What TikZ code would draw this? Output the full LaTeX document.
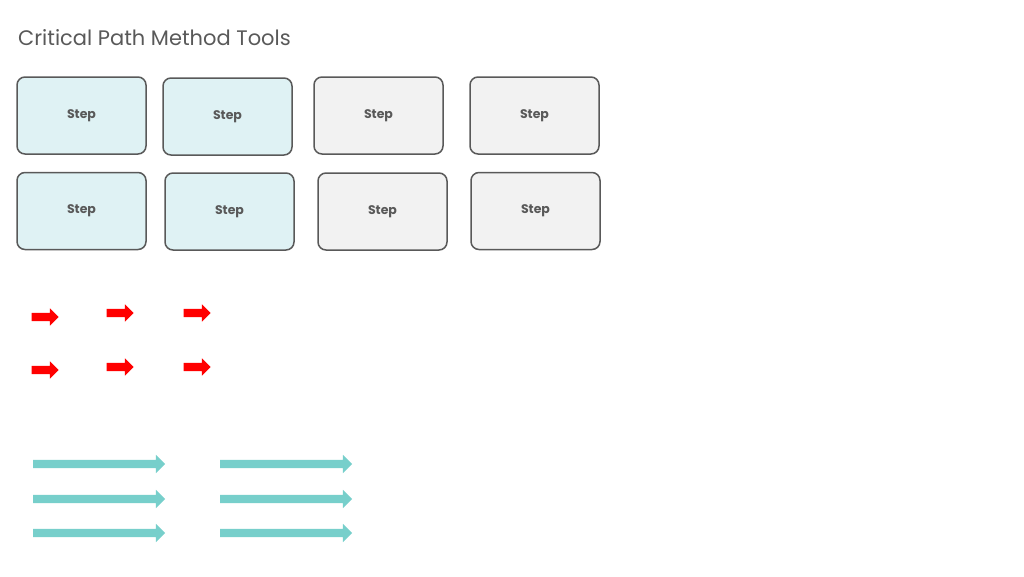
\documentclass[tikz,border=0pt]{standalone}
\usepackage{fontspec}
\setmainfont{Poppins}
\usetikzlibrary{shapes.arrows}
\definecolor{boxline}{HTML}{595959}
\definecolor{cyanfill}{HTML}{DFF2F4}
\definecolor{grayfill}{HTML}{F2F2F2}
\definecolor{tealarrow}{HTML}{77CFCB}
\begin{document}
\begin{tikzpicture}[
        x=1pt, y=-1pt,
        stepbox/.style={draw=boxline, line width=1.5pt, rounded corners=8pt,
            minimum width=129pt, minimum height=77pt, inner sep=0pt,
            font=\fontsize{12.5}{14}\selectfont\bfseries, text=boxline},
        cyanbox/.style={stepbox, fill=cyanfill},
        graybox/.style={stepbox, fill=grayfill},
        redarrow/.style={single arrow, fill=red, draw=none, inner xsep=0pt, inner ysep=4pt,
            minimum height=27pt, single arrow head extend=4.5pt},
        tealbar/.style={single arrow, fill=tealarrow, draw=none, inner xsep=0pt, inner ysep=4pt,
            minimum height=132pt, single arrow head extend=5pt}
    ]
    \useasboundingbox (0,0) rectangle (1024,576);

    % Title
    \node[anchor=west, text=boxline, font=\fontsize{21}{24}\selectfont, inner sep=0pt] (title) at (18,38) {Critical Path Method Tools};

    % Step boxes
    \node[cyanbox] (s11) at (81.5,115.5) {Step};
    \node[cyanbox] (s12) at (227.5,116.5) {Step};
    \node[graybox] (s13) at (378.5,115.5) {Step};
    \node[graybox] (s14) at (534.5,115.5) {Step};
    \node[cyanbox] (s21) at (81.5,211) {Step};
    \node[cyanbox] (s22) at (229.5,211.5) {Step};
    \node[graybox] (s23) at (382.5,211.5) {Step};
    \node[graybox] (s24) at (535.5,211) {Step};

    % Red arrows
    \node[redarrow] (r11) at (43,317) {};
    \node[redarrow] (r12) at (118,313) {};
    \node[redarrow] (r13) at (195,313) {};
    \node[redarrow] (r21) at (43,370) {};
    \node[redarrow] (r22) at (118,367) {};
    \node[redarrow] (r23) at (195,367) {};

    % Teal arrows
    \foreach \y [count=\i] in {464,499,533} {
        \node[tealbar] (ta\i) at (97,\y) {};
        \node[tealbar] (tb\i) at (284,\y) {};
    }
\end{tikzpicture}
\end{document}
